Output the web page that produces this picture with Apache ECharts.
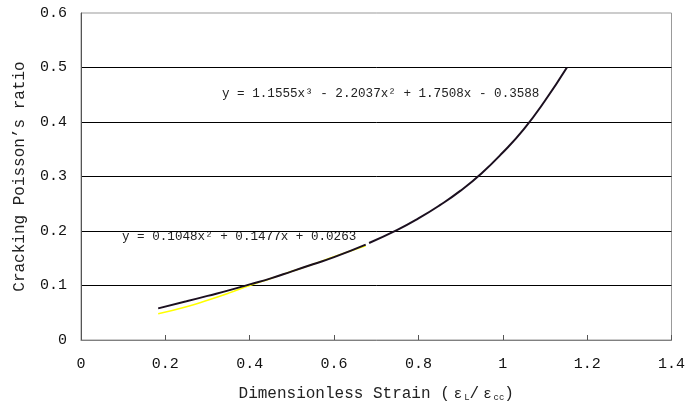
<!DOCTYPE html>
<html>
<head>
<meta charset="utf-8">
<script src="https://cdn.jsdelivr.net/npm/echarts@6/dist/echarts.min.js"></script>
<style>html,body{margin:0;padding:0;background:#fff}#c{width:688px;height:408px}</style>
</head>
<body>
<div id="c"></div>
<script>
// Data
const xTitle = '{n|Dimensionless Strain (}{e|\u03b5}{s|L}{n|/}{e|\u03b5}{s|cc}{n|)}';
const yTitle = 'Cracking Poisson\u2019s ratio';
const eqCubic = 'y = 1.1555x\u00b3 - 2.2037x\u00b2 + 1.7508x - 0.3588';
const eqQuad = 'y = 0.1048x\u00b2 + 0.1477x + 0.0263';

const blackLowX = [0.183, 0.25, 0.3, 0.35, 0.4, 0.45, 0.5, 0.55, 0.6, 0.675];
const blackLowY = [0.058, 0.071, 0.081, 0.091, 0.102, 0.113, 0.126, 0.139, 0.152, 0.175];

const blackHighX = [0.683, 0.75, 0.8, 0.85, 0.9, 0.95, 1.0, 1.05, 1.1, 1.152];
const blackHighY = [0.178, 0.202, 0.223, 0.247, 0.274, 0.306, 0.344, 0.387, 0.439, 0.500];

const yellowX = [0.183, 0.25, 0.3, 0.35, 0.4, 0.45, 0.5, 0.55, 0.6, 0.675];
const yellowY = [0.048, 0.061, 0.073, 0.086, 0.100, 0.113, 0.126, 0.139, 0.153, 0.173];

function pairs(xs, ys) { return xs.map((x, i) => [x, ys[i]]); }

const font = '"Liberation Mono", "DejaVu Sans Mono", monospace';
const chart = echarts.init(document.getElementById('c'));
chart.setOption({
  animation: false,
  backgroundColor: '#fff',
  grid: { left: 81, right: 15, top: 13, bottom: 68, show: true, borderColor: '#999', borderWidth: 1 },
  xAxis: {
    type: 'value', min: 0, max: 1.4, interval: 0.2,
    name: xTitle, nameLocation: 'middle', nameGap: 46,
    nameTextStyle: {
      fontFamily: font, fontSize: 16, color: '#222',
      rich: {
        n: { fontFamily: font, fontSize: 16, color: '#222' },
        e: { fontFamily: font, fontSize: 14, color: '#222', padding: [0, 2, 0, 4] },
        s: { fontFamily: font, fontSize: 9, color: '#222', verticalAlign: 'bottom', padding: [6, 0, 0, 0] }
      }
    },
    axisLine: { lineStyle: { color: '#808080', width: 1 } },
    axisTick: { show: true, inside: true, length: 5, lineStyle: { color: '#555' } },
    axisLabel: { fontFamily: font, fontSize: 15, color: '#111', margin: 17 },
    splitLine: { show: false }
  },
  yAxis: {
    type: 'value', min: 0, max: 0.6, interval: 0.1,
    name: yTitle, nameLocation: 'middle', nameGap: 53, nameRotate: 90,
    nameTextStyle: { fontFamily: font, fontSize: 16, color: '#222' },
    axisLine: { show: true, lineStyle: { color: '#555', width: 1 } },
    axisTick: { show: false },
    axisLabel: { fontFamily: font, fontSize: 15, color: '#111', margin: 14 },
    splitLine: { show: true, showMinLine: false, showMaxLine: false, lineStyle: { color: '#000', width: 1 } }
  },
  series: [
    { type: 'line', data: pairs(yellowX, yellowY), smooth: true, symbol: 'none', lineStyle: { color: '#ffff00', width: 1.5 }, z: 2 },
    { type: 'line', data: pairs(blackLowX, blackLowY), smooth: true, symbol: 'none', lineStyle: { color: '#1b0f1f', width: 2 }, z: 3 },
    { type: 'line', data: pairs(blackHighX, blackHighY), smooth: true, symbol: 'none', lineStyle: { color: '#1b0f1f', width: 2 }, z: 3 }
  ],
  graphic: [
    { type: 'text', left: 222, top: 87, style: { text: eqCubic, font: '12.6px ' + font, fill: '#222' } },
    { type: 'text', left: 122, top: 230, style: { text: eqQuad, font: '12.6px ' + font, fill: '#222' } }
  ]
});
</script>
</body>
</html>
